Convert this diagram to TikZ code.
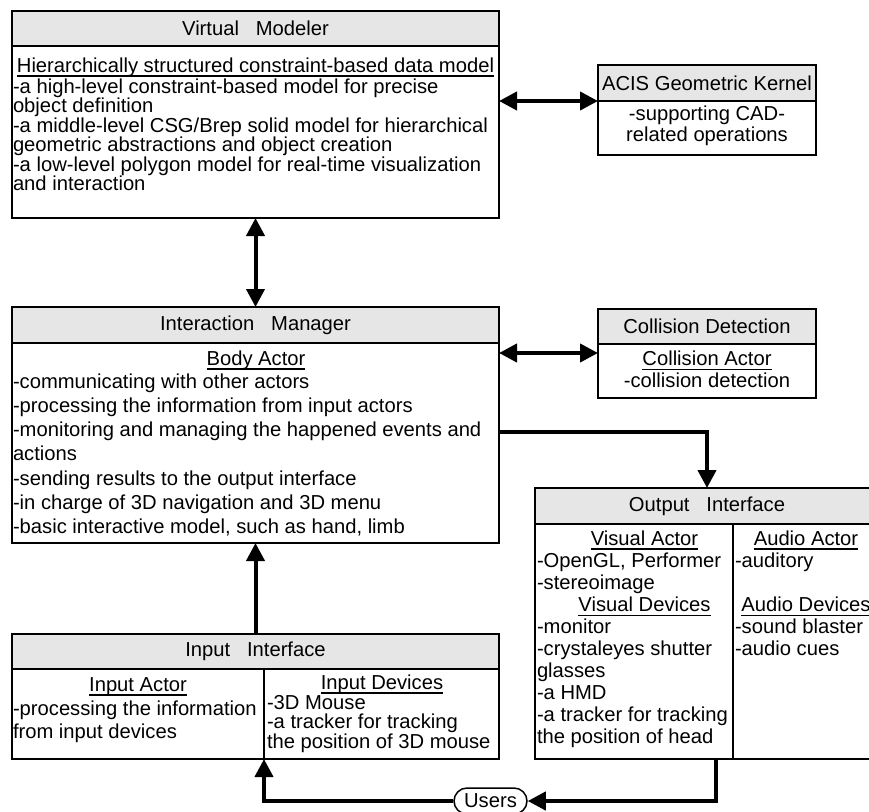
\documentclass[tikz,border=0pt]{standalone}
\usepackage{fontspec}
\setmainfont{Liberation Sans}
\usetikzlibrary{arrows.meta,calc,shapes.misc}
\definecolor{headgray}{RGB}{230,230,230}
\newcommand\diagfont{\fontsize{20.2pt}{24pt}\selectfont}
% blocks of lines whose reference point is the baseline of the first line
\newcommand\leftlines[2]{\vtop{\baselineskip=#1\lineskiplimit=-\maxdimen\lineskip=0pt\halign{##\hfil\cr#2\crcr}}}
\newcommand\midlines[2]{\vtop{\baselineskip=#1\lineskiplimit=-\maxdimen\lineskip=0pt\halign{\hfil##\hfil\cr#2\crcr}}}
% underlined heading
\newsavebox\ulsave
\newcommand\ulbox[1]{\sbox\ulsave{#1}\rlap{\rule[-4.8pt]{\wd\ulsave}{1.4pt}}\usebox\ulsave}
\tikzset{
  box/.style={draw, line width=1.5pt, inner sep=0pt, outer sep=0pt, anchor=north west},
  headbox/.style={box, fill=headgray},
  txt/.style={inner sep=0pt, outer sep=0pt, font=\diagfont},
  link/.style={line width=4pt, -{Triangle[length=18pt,width=18pt]}},
  bilink/.style={line width=4pt, {Triangle[length=18pt,width=18pt]}-{Triangle[length=18pt,width=18pt]}},
}
\begin{document}
\begin{tikzpicture}[x=1pt,y=-1pt]
\useasboundingbox (0,0) rectangle (869,811);
\fill[white] (0,0) rectangle (869,811);
\clip (0,0) rectangle (869,811);

% ---- Virtual Modeler ----
\node[headbox, minimum width=487pt, minimum height=35pt] (vmhead) at (12,11) {};
\node[box, minimum width=487pt, minimum height=172pt] (vmbody) at (12,46) {};
\node[txt] (vmtitle) at (vmhead.center) {Virtual\ \ \ Modeler};
\node[txt, anchor=base] (vmsub) at (255.5,72) {\ulbox{Hierarchically structured constraint-based data model}};
\node[txt, anchor=base west] (vmtext) at (13,93) {\leftlines{19.5pt}{-a high-level constraint-based model for precise\cr
object definition\cr
-a middle-level CSG/Brep solid model for hierarchical\cr
geometric abstractions and object creation\cr
-a low-level polygon model for real-time visualization\cr
and interaction}};

% ---- ACIS Geometric Kernel ----
\node[headbox, minimum width=218pt, minimum height=36pt] (acishead) at (598,65) {};
\node[box, minimum width=218pt, minimum height=54pt] (acisbody) at (598,101) {};
\node[txt] (acistitle) at (acishead.center) {ACIS Geometric Kernel};
\node[txt, anchor=base] (acistext) at (707,120) {\midlines{21.7pt}{-supporting CAD-\cr related operations}};

% ---- Interaction Manager ----
\node[headbox, minimum width=487pt, minimum height=36pt] (imhead) at (12,307) {};
\node[box, minimum width=487pt, minimum height=200pt] (imbody) at (12,343) {};
\node[txt] (imtitle) at (imhead.center) {Interaction\ \ \ Manager};
\node[txt, anchor=base] (imsub) at (256,365) {\ulbox{Body Actor}};
\node[txt, anchor=base west] (imtext) at (13,388) {\leftlines{24.3pt}{-communicating with other actors\cr
-processing the information from input actors\cr
-monitoring and managing the happened events and\cr
actions\cr
-sending results to the output interface\cr
-in charge of 3D navigation and 3D menu\cr
-basic interactive model, such as hand, limb}};

% ---- Collision Detection ----
\node[headbox, minimum width=218pt, minimum height=35pt] (colhead) at (598,309) {};
\node[box, minimum width=218pt, minimum height=54pt] (colbody) at (598,344) {};
\node[txt] (coltitle) at (colhead.center) {Collision Detection};
\node[txt, anchor=base] (colsub) at (707,365.5) {\ulbox{Collision Actor}};
\node[txt, anchor=base] (coltext) at (707,387) {-collision detection};

% ---- Output Interface ----
\node[headbox, minimum width=344pt, minimum height=36pt] (outhead) at (535,488) {};
\node[box, minimum width=344pt, minimum height=235pt] (outbody) at (535,524) {};
\coordinate (outdivt) at ($(outbody.north west)+(198,0)$);
\coordinate (outdivb) at ($(outbody.south west)+(198,0)$);
\draw[line width=1.5pt] (outdivt) -- (outdivb);
\node[txt] (outtitle) at (outhead.center) {Output\ \ \ Interface};
\node[txt, anchor=base] (visual) at (644.5,545) {\ulbox{Visual Actor}};
\node[txt, anchor=base west] (visualtext) at (537,567) {\leftlines{22.1pt}{-OpenGL, Performer\cr -stereoimage}};
\node[txt, anchor=base] (vdev) at (644.5,611.3) {\ulbox{Visual Devices}};
\node[txt, anchor=base west] (vdevtext) at (537,633.4) {\leftlines{22.1pt}{-monitor\cr
-crystaleyes shutter\cr
glasses\cr
-a HMD\cr
-a tracker for tracking\cr
the position of head}};
\node[txt, anchor=base] (audio) at (806,545) {\ulbox{Audio Actor}};
\node[txt, anchor=base west] (audiotext) at (735,567) {-auditory};
\node[txt, anchor=base] (adev) at (806,611.3) {\ulbox{Audio Devices}};
\node[txt, anchor=base west] (adevtext) at (735,633.4) {\leftlines{22.1pt}{-sound blaster\cr -audio cues}};

% ---- Input Interface ----
\node[headbox, minimum width=487pt, minimum height=35pt] (inhead) at (12,634) {};
\node[box, minimum width=487pt, minimum height=90pt] (inbody) at (12,669) {};
\coordinate (indivt) at ($(inbody.north west)+(252,0)$);
\coordinate (indivb) at ($(inbody.south west)+(252,0)$);
\draw[line width=1.5pt] (indivt) -- (indivb);
\node[txt] (intitle) at (inhead.center) {Input\ \ \ Interface};
\node[txt, anchor=base] (inactor) at (138,691) {\ulbox{Input Actor}};
\node[txt, anchor=base west] (inactortext) at (13,715) {\leftlines{23.5pt}{-processing the information\cr from input devices}};
\node[txt, anchor=base] (indev) at (382,689) {\ulbox{Input Devices}};
\node[txt, anchor=base west] (indevtext) at (267,709) {\leftlines{19.7pt}{-3D Mouse\cr
-a tracker for tracking\cr
the position of 3D mouse}};

% ---- Users ----
\node[draw, rounded rectangle, line width=1.5pt, fill=white, minimum width=73pt,
      minimum height=26pt, inner sep=0pt, font=\diagfont] (users) at (490.5,801) {Users};

% ---- connectors ----
\draw[bilink] (vmbody.east |- acishead.south west) -- (acishead.south west);
\draw[bilink] (vmbody.south) -- (imhead.north);
\coordinate (colin) at ($(colbody.north west)+(0,9)$);
\draw[bilink] (imhead.east |- colin) -- (colin);
\coordinate (imout) at ($(imbody.north east)+(0,89)$);
\draw[link] (imout) -| (outhead.north);
\draw[link] (inhead.north) -- (imbody.south);
\coordinate (outusers) at ($(outbody.south)+(9,0)$);
\draw[link] (outusers) |- (users.east);
\draw[link] (users.west) -| (indivb);
\end{tikzpicture}
\end{document}
